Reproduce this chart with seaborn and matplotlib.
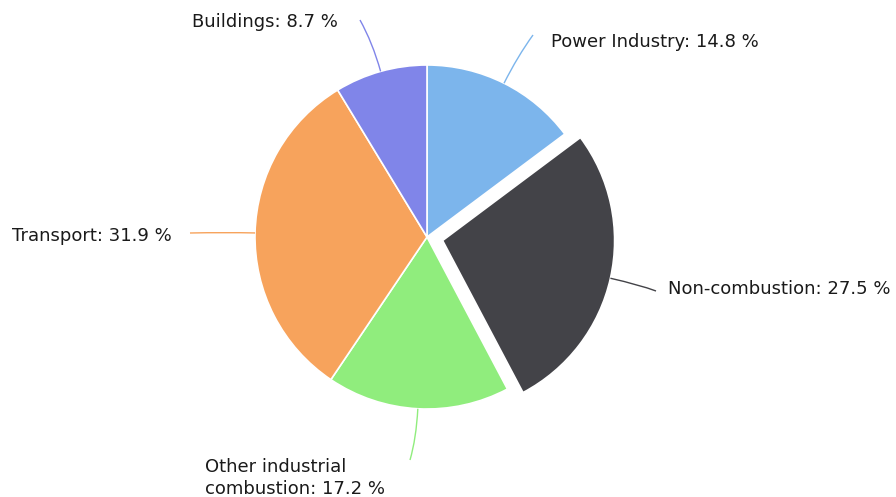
import numpy as np
import seaborn as sns
import matplotlib.pyplot as plt
from matplotlib.path import Path
from matplotlib.patches import PathPatch

sectors = ['Power Industry', 'Non-combustion', 'Other industrial\ncombustion', 'Transport', 'Buildings']
shares = [14.8, 27.5, 17.2, 31.9, 8.7]
colors = ['#7cb5ec', '#434348', '#90ed7d', '#f7a35c', '#8085e9']

# layout in pixels (y measured from the top of the image)
W, H = 896, 497
cx, cy, R = 427, 237, 172
explode = [0, 16, 0, 0, 0]  # pixels
# label anchor (x, y, ha) and connector end for each slice
lab = [(551, 42, 'left'), (668, 289, 'left'), (205, 478, 'left'), (172, 236, 'right'), (338, 22, 'right')]
ends = [(533, 35), (656, 291), (410, 460), (190, 233), (360, 20)]

sns.set_theme(style='white')
plt.rcParams['font.family'] = ['DejaVu Sans']

fig = plt.figure(figsize=(W / 100, H / 100), dpi=100)
ax = fig.add_axes([0, 0, 1, 1])

wedges, _ = ax.pie(shares, colors=colors, startangle=90, counterclock=False,
                   center=(cx, H - cy), radius=R, explode=explode,
                   wedgeprops=dict(edgecolor='white', linewidth=1.2), frame=True)
ax.set_xlim(0, W)
ax.set_ylim(0, H)
ax.set_aspect('equal')
ax.axis('off')

for w, c, (lx, ly, ha), (ex, ey), name, v, off in zip(wedges, colors, lab, ends, sectors, shares, explode):
    mid = np.deg2rad((w.theta1 + w.theta2) / 2)
    x0 = cx + (R + off) * np.cos(mid)
    y0 = (H - cy) + (R + off) * np.sin(mid)
    xc = cx + (R + off + 30) * np.cos(mid)
    yc = (H - cy) + (R + off + 30) * np.sin(mid)
    p = Path([(x0, y0), (xc, yc), (ex, H - ey)], [Path.MOVETO, Path.CURVE3, Path.CURVE3])
    ax.add_patch(PathPatch(p, fill=False, edgecolor=c, linewidth=1))
    ax.text(lx, H - ly, f'{name}: {v} %', ha=ha, va='center', fontsize=13,
            color='#1a1a1a', linespacing=1.3)

plt.savefig('out.png', dpi=100)
